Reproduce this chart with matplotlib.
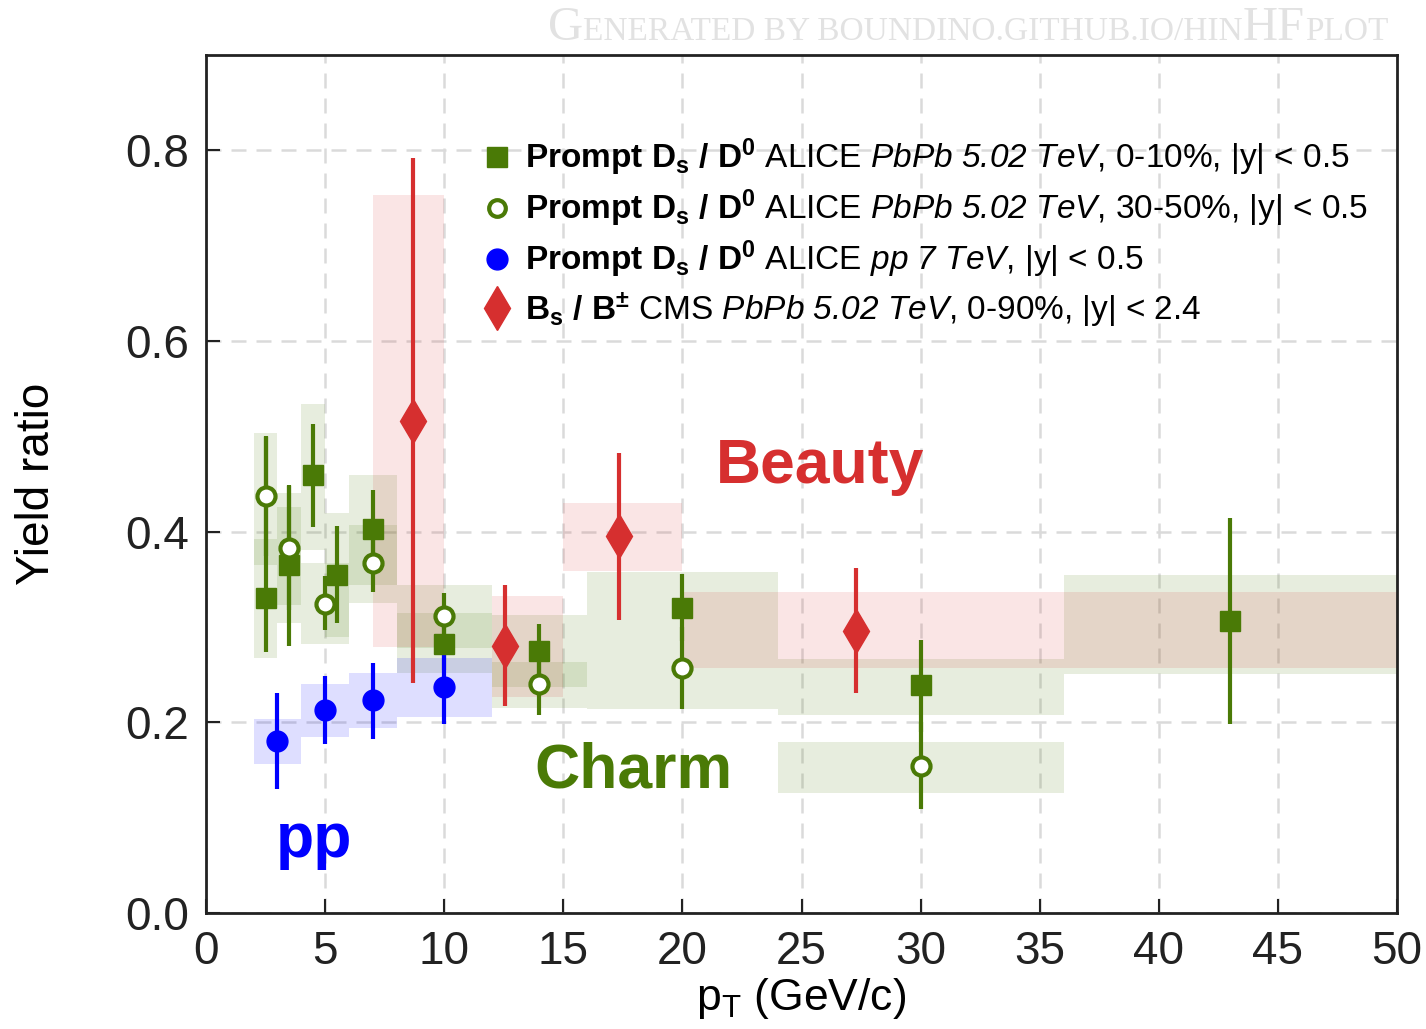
import numpy as np
import matplotlib
matplotlib.use('Agg')
import matplotlib.pyplot as plt
from matplotlib.lines import Line2D

plt.rcParams['font.family'] = ['Liberation Sans', 'DejaVu Sans']
plt.rcParams['mathtext.fontset'] = 'custom'
plt.rcParams['mathtext.rm'] = 'Liberation Sans'
plt.rcParams['mathtext.it'] = 'Liberation Sans:italic'
plt.rcParams['mathtext.sf'] = 'Liberation Sans:italic'  # italic digits too
plt.rcParams['mathtext.bf'] = 'Liberation Sans:bold'

green = '#4a7a06'
red = '#d62f2f'
blue = '#0000ff'

# Ds/D0 ALICE PbPb 0-10%
c010_x = [2.5, 3.5, 4.5, 5.5, 7, 10, 14, 20, 30, 43]
c010_y = [0.330, 0.365, 0.459, 0.355, 0.403, 0.282, 0.275, 0.320, 0.239, 0.306]
c010_lo = [0.274, 0.280, 0.405, 0.304, 0.360, 0.255, 0.245, 0.285, 0.190, 0.198]
c010_hi = [0.499, 0.449, 0.513, 0.406, 0.444, 0.310, 0.303, 0.356, 0.286, 0.414]
c010_bin_lo = [2, 3, 4, 5, 6, 8, 12, 16, 24, 36]
c010_bin_hi = [3, 4, 5, 6, 8, 12, 16, 24, 36, 50]
c010_sys_lo = [0.267, 0.304, 0.381, 0.290, 0.344, 0.252, 0.237, 0.282, 0.208, 0.251]
c010_sys_hi = [0.392, 0.426, 0.534, 0.420, 0.459, 0.315, 0.313, 0.358, 0.266, 0.355]

# Ds/D0 ALICE PbPb 30-50%
c3050_x = [2.5, 3.5, 5, 7, 10, 14, 20, 30]
c3050_y = [0.437, 0.383, 0.324, 0.367, 0.312, 0.240, 0.257, 0.154]
c3050_lo = [0.374, 0.318, 0.297, 0.337, 0.290, 0.208, 0.214, 0.109]
c3050_hi = [0.500, 0.448, 0.353, 0.397, 0.336, 0.265, 0.300, 0.200]
c3050_bin_lo = [2, 3, 4, 6, 8, 12, 16, 24]
c3050_bin_hi = [3, 4, 6, 8, 12, 16, 24, 36]
c3050_sys_lo = [0.365, 0.323, 0.282, 0.325, 0.278, 0.215, 0.214, 0.126]
c3050_sys_hi = [0.504, 0.441, 0.367, 0.407, 0.344, 0.263, 0.282, 0.179]

# Ds/D0 ALICE pp 7 TeV
pp_x = [3, 5, 7, 10]
pp_y = [0.180, 0.213, 0.223, 0.237]
pp_lo = [0.130, 0.177, 0.183, 0.198]
pp_hi = [0.231, 0.249, 0.262, 0.275]
pp_bin_lo = [2, 4, 6, 8]
pp_bin_hi = [4, 6, 8, 12]
pp_sys_lo = [0.156, 0.185, 0.194, 0.206]
pp_sys_hi = [0.204, 0.240, 0.252, 0.268]

# Bs/B+ CMS PbPb 0-90%
bs_x = [8.7, 12.55, 17.35, 27.27]
bs_y = [0.516, 0.280, 0.395, 0.296]
bs_lo = [0.241, 0.217, 0.307, 0.231]
bs_hi = [0.792, 0.344, 0.483, 0.362]
bs_bin_lo = [7, 12, 15, 20]
bs_bin_hi = [10, 15, 20, 50]
bs_sys_lo = [0.279, 0.227, 0.359, 0.257]
bs_sys_hi = [0.753, 0.333, 0.430, 0.337]


def draw_boxes(ax, blo, bhi, slo, shi, color, alpha):
    for a, b, lo, hi in zip(blo, bhi, slo, shi):
        ax.fill_between([a, b], lo, hi, color=color, alpha=alpha, lw=0, zorder=1)


def draw_points(ax, x, y, lo, hi, ecol, **kw):
    y = np.array(y)
    yerr = [y - np.array(lo), np.array(hi) - y]
    ax.errorbar(x, y, yerr=yerr, fmt='none', ecolor=ecol, elinewidth=3, capsize=0, zorder=3)
    ax.plot(x, y, linestyle='none', zorder=4, **kw)


fig = plt.figure(figsize=(14.26, 10.29), dpi=100)
ax = fig.add_axes([206 / 1426, 116 / 1029, 1191 / 1426, 858 / 1029])

draw_boxes(ax, c010_bin_lo, c010_bin_hi, c010_sys_lo, c010_sys_hi, green, 0.13)
draw_boxes(ax, c3050_bin_lo, c3050_bin_hi, c3050_sys_lo, c3050_sys_hi, green, 0.13)
draw_boxes(ax, pp_bin_lo, pp_bin_hi, pp_sys_lo, pp_sys_hi, blue, 0.13)
draw_boxes(ax, bs_bin_lo, bs_bin_hi, bs_sys_lo, bs_sys_hi, red, 0.12)

draw_points(ax, c010_x, c010_y, c010_lo, c010_hi, green, marker='s', ms=14, color=green, mec=green)
draw_points(ax, c3050_x, c3050_y, c3050_lo, c3050_hi, green, marker='o', ms=13, mfc='white', mec=green, mew=3)
draw_points(ax, pp_x, pp_y, pp_lo, pp_hi, blue, marker='o', ms=15, color=blue)
draw_points(ax, bs_x, bs_y, bs_lo, bs_hi, red, marker='d', ms=22, color=red)

ax.set_xlim(0, 50)
ax.set_ylim(0, 0.9)
ax.set_xticks(np.arange(0, 51, 5))
ax.set_yticks([0.0, 0.2, 0.4, 0.6, 0.8])
ax.set_yticklabels(['0.0', '0.2', '0.4', '0.6', '0.8'])
ax.grid(True, color='#dadada', linestyle=(0, (6, 4)), linewidth=1.8, zorder=0)
ax.set_axisbelow(True)
ax.tick_params(direction='in', length=10, width=1.5, labelsize=33, colors='#222222', pad=12)
for s in ax.spines.values():
    s.set_linewidth(2)
    s.set_color('#222222')

ax.set_xlabel(r'p$_{\mathrm{T}}$ (GeV/c)', fontsize=32, labelpad=2)
ax.set_ylabel('Yield ratio', fontsize=33, labelpad=48)

handles = [
    Line2D([], [], linestyle='none', marker='s', ms=14, color=green),
    Line2D([], [], linestyle='none', marker='o', ms=12, mfc='white', mec=green, mew=3),
    Line2D([], [], linestyle='none', marker='o', ms=15, color=blue),
    Line2D([], [], linestyle='none', marker='d', ms=22, color=red),
]
labels = [
    r'$\mathbf{Prompt\ D_{s}\ /\ D^{0}}$ ALICE $\mathsf{PbPb\ 5.02\ TeV}$, 0-10%, |y| < 0.5',
    r'$\mathbf{Prompt\ D_{s}\ /\ D^{0}}$ ALICE $\mathsf{PbPb\ 5.02\ TeV}$, 30-50%, |y| < 0.5',
    r'$\mathbf{Prompt\ D_{s}\ /\ D^{0}}$ ALICE $\mathsf{pp\ 7\ TeV}$, |y| < 0.5',
    r'$\mathbf{B_{s}\ /\ B^{\pm}}$ CMS $\mathsf{PbPb\ 5.02\ TeV}$, 0-90%, |y| < 2.4',
]
ax.legend(handles, labels, loc='upper left', bbox_to_anchor=(0.222, 0.92), frameon=False,
          fontsize=24, handlelength=0.8, handletextpad=0.45, labelspacing=0.285, borderaxespad=0)

ax.text(0.428, 0.52, 'Beauty', transform=ax.transAxes, fontsize=45, fontweight='bold', color=red,
        ha='left', va='center')
ax.text(0.276, 0.165, 'Charm', transform=ax.transAxes, fontsize=45, fontweight='bold', color=green,
        ha='left', va='center')
ax.text(0.059, 0.085, 'pp', transform=ax.transAxes, fontsize=45, fontweight='bold', color=blue,
        ha='left', va='center')

# watermark in small caps
renderer = fig.canvas.get_renderer()
pieces = [('G', 35), ('ENERATED BY BOUNDINO.GITHUB.IO/HIN', 24), ('HF', 35), ('PLOT', 24)]
xpos = 548
for txt, size in pieces:
    t = fig.text(xpos / 1426, 1 - 40 / 1029, txt, fontsize=size, color='#e2e2e2',
                 family='Liberation Serif', ha='left', va='baseline')
    xpos = t.get_window_extent(renderer=renderer).x1

fig.savefig('out.png', dpi=100)
